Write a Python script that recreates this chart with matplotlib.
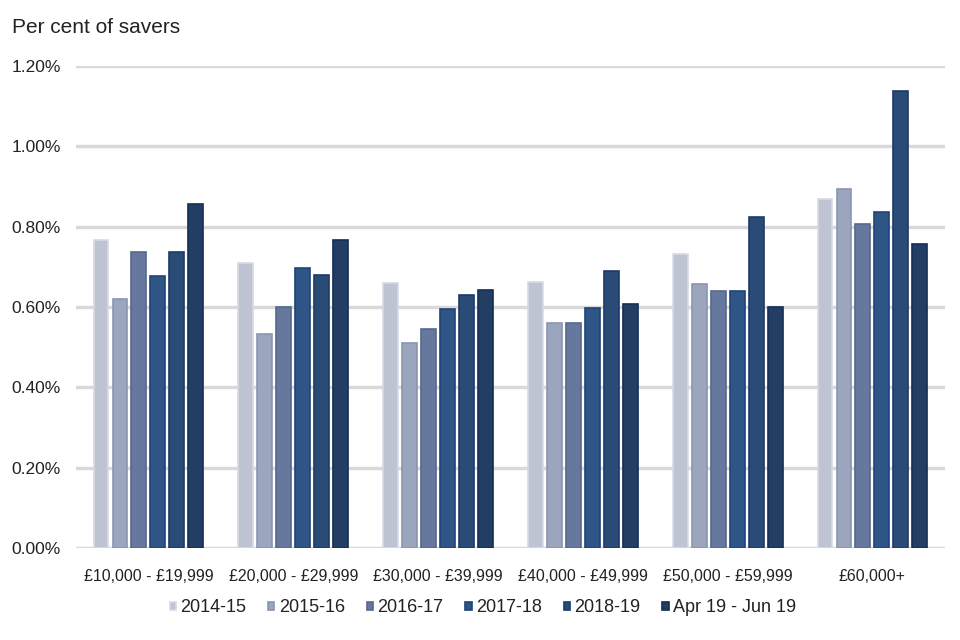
import numpy as np
import matplotlib.pyplot as plt
from matplotlib import font_manager
from matplotlib.ticker import FuncFormatter

plt.rcParams['font.family'] = ['Liberation Sans', 'DejaVu Sans']

# the legend and the y ticks use a narrower face in the original
installed = {f.name for f in font_manager.fontManager.ttflist}
if 'Liberation Sans Narrow' in installed:
    narrow = ['Liberation Sans Narrow', 'DejaVu Sans']
    legend_size, ytick_size = 16, 15
else:
    narrow = ['Liberation Sans', 'DejaVu Sans']
    legend_size, ytick_size = 13, 12.5

categories = ['£10,000 - £19,999', '£20,000 - £29,999', '£30,000 - £39,999',
              '£40,000 - £49,999', '£50,000 - £59,999', '£60,000+']
series = ['2014-15', '2015-16', '2016-17', '2017-18', '2018-19', 'Apr 19 - Jun 19']

# per cent of savers
v_2014_15 = [0.767, 0.709, 0.660, 0.663, 0.733, 0.868]
v_2015_16 = [0.619, 0.534, 0.510, 0.560, 0.658, 0.894]
v_2016_17 = [0.736, 0.600, 0.545, 0.560, 0.639, 0.806]
v_2017_18 = [0.678, 0.698, 0.595, 0.597, 0.640, 0.836]
v_2018_19 = [0.736, 0.681, 0.630, 0.690, 0.824, 1.138]
v_apr_jun19 = [0.857, 0.766, 0.643, 0.607, 0.600, 0.756]

values = [v_2014_15, v_2015_16, v_2016_17, v_2017_18, v_2018_19, v_apr_jun19]
colors = ['#bec4d3', '#9ba6be', '#66789d', '#2f5486', '#2b4b77', '#233e64']
edges = ['#d6dae4', '#8a96b0', '#56688e', '#1f4478', '#1d3b68', '#142e55']

fig = plt.figure(figsize=(9.6, 6.4), dpi=100)
ax = fig.add_axes([0.0792, 0.14375, 0.905, 0.753])

x = np.arange(len(categories))
pitch = 0.131
for i, (name, vals) in enumerate(zip(series, values)):
    ax.bar(x + pitch * (i - 2.5), vals, width=0.103, color=colors[i],
           edgecolor=edges[i], linewidth=1.2, label=name, zorder=3)

ax.set_xlim(-0.5, 5.5)
ax.set_ylim(0, 1.2)
ax.set_yticks(np.arange(0, 1.21, 0.2))
ax.yaxis.set_major_formatter(FuncFormatter(lambda v, p: f'{v:.2f}%'))
ax.set_xticks(x)
ax.set_xticklabels(categories)
ax.tick_params(axis='both', length=0, colors='#222222')
ax.tick_params(axis='x', pad=15, labelsize=11.5)
ax.tick_params(axis='y', pad=11, labelsize=ytick_size)
for lab in ax.get_yticklabels():
    lab.set_family(narrow)
ax.grid(axis='y', color='#d9d9d9', linewidth=2.5, zorder=0)
for s in ax.spines.values():
    s.set_visible(False)

fig.text(0.0125, 0.957, 'Per cent of savers', fontsize=15, color='#222222', va='center')

leg = fig.legend(loc='center', bbox_to_anchor=(0.503, 0.05), ncol=6, frameon=False,
                 prop={'family': narrow, 'size': legend_size},
                 handlelength=0.35, handleheight=0.35, handletextpad=0.25,
                 columnspacing=1.2, labelcolor='#222222')

plt.savefig('out.png')
